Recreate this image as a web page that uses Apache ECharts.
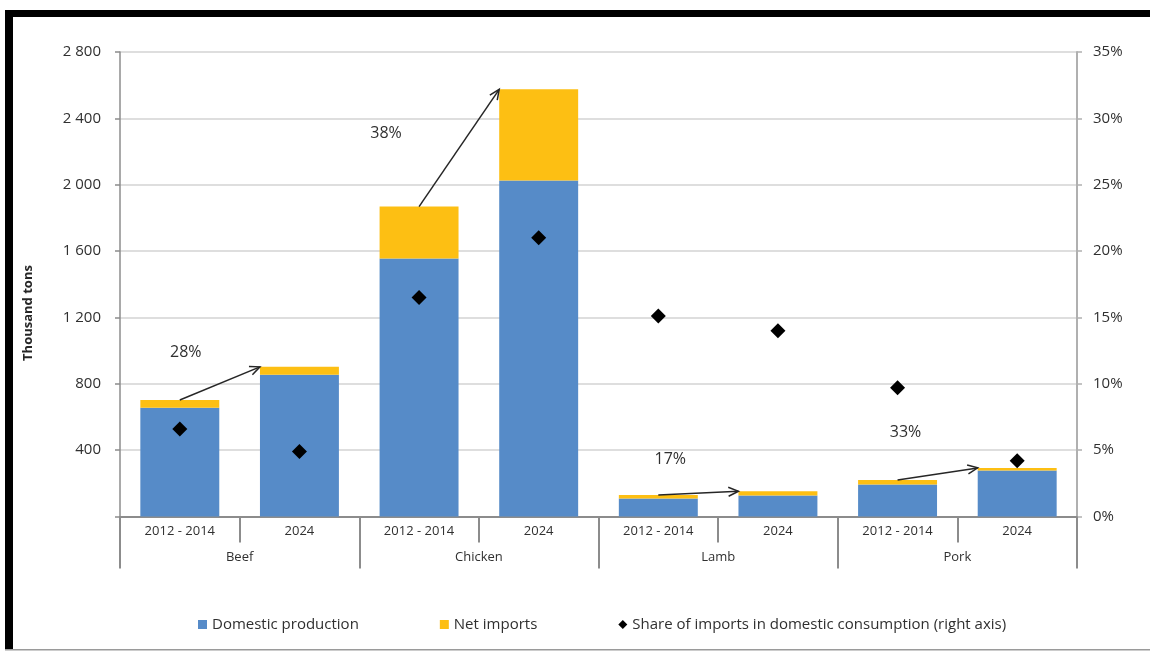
<!DOCTYPE html>
<html>
<head>
<meta charset="utf-8">
<script src="https://cdn.jsdelivr.net/npm/echarts@6/dist/echarts.min.js"></script>
<style>
  html, body { margin: 0; padding: 0; background: #ffffff; }
  #chart { width: 1150px; height: 652px; }
</style>
</head>
<body>
<div id="chart"></div>
<script>
// Periods shown under each bar, and the meat groups beneath them
const periods = ['2012 - 2014', '2024', '2012 - 2014', '2024', '2012 - 2014', '2024', '2012 - 2014', '2024'];
const meats = ['Beef', 'Chicken', 'Lamb', 'Pork'];

// Thousand tons
const domesticProduction = [655, 855, 1555, 2025, 108, 127, 193, 277];
const netImports = [47, 47, 313, 550, 22, 25, 27, 16];

// Share of imports in domestic consumption, %
const importShare = [6.6, 4.9, 16.5, 21.0, 15.1, 14.0, 9.7, 4.2];

// Growth arrows between the two periods of each meat
const growthFrom = [0, 2, 4, 6];
const growthTo = [1, 3, 5, 7];
const growthText = ['28%', '38%', '17%', '33%'];

// Label offsets (px) from each arrow's starting point
const growthLabelOffset = [[6, -48], [-33, -73], [12, -35], [8, -48]];

const totals = domesticProduction.map((d, i) => d + netImports[i]);

const BAR_RATIO = 0.66;
const FONT = '"Open Sans", "Noto Sans", sans-serif';
const TEXT = '#303030';
const AXIS = '#8c8c8c';

function thousands(v) {
  if (v === 0) return '';
  if (v < 1000) return String(v);
  return Math.floor(v / 1000) + ' ' + String(v % 1000).padStart(3, '0');
}

const chart = echarts.init(document.getElementById('chart'), null, { renderer: 'canvas' });

chart.setOption({
  backgroundColor: '#ffffff',
  animation: false,
  textStyle: { fontFamily: FONT },
  grid: { left: 120, right: 73, top: 52, bottom: 135.5, containLabel: false, outerBoundsMode: 'none' },
  legend: {
    data: [
      { name: 'Domestic production', icon: 'rect' },
      { name: 'Net imports', icon: 'rect' },
      { name: 'Share of imports in domestic consumption (right axis)', icon: 'diamond' }
    ],
    left: 193, top: 612,
    itemWidth: 9, itemHeight: 9, itemGap: 81,
    textStyle: { fontFamily: FONT, fontSize: 15, color: TEXT }
  },
  xAxis: [
    {
      type: 'category', data: periods, position: 'bottom',
      axisLine: { show: true, lineStyle: { color: AXIS, width: 2 } },
      axisTick: { show: true, interval: 0, length: 26, lineStyle: { color: AXIS, width: 2 } },
      axisLabel: { interval: 0, margin: 8, fontFamily: FONT, fontSize: 13, color: TEXT },
      splitLine: { show: false }
    },
    {
      type: 'category', data: meats, position: 'bottom',
      axisLine: { show: false },
      axisTick: { show: true, interval: 0, length: 52, lineStyle: { color: AXIS, width: 2 } },
      axisLabel: { interval: 0, margin: 34, fontFamily: FONT, fontSize: 13, color: TEXT },
      splitLine: { show: false }
    }
  ],
  yAxis: [
    {
      type: 'value', min: 0, max: 2800, interval: 400, position: 'left',
      axisLine: { show: true, lineStyle: { color: AXIS, width: 1.5 } },
      axisTick: { show: true, length: 5, lineStyle: { color: AXIS, width: 1.5 } },
      axisLabel: { margin: 19, fontFamily: FONT, fontSize: 15, color: TEXT, formatter: thousands },
      splitLine: { show: true, lineStyle: { color: '#dedede', width: 2 } }
    },
    {
      type: 'value', min: 0, max: 35, interval: 5, position: 'right',
      axisLine: { show: true, lineStyle: { color: '#b0b0b0', width: 2 } },
      axisTick: { show: true, length: 5, lineStyle: { color: '#b0b0b0', width: 1.5 } },
      axisLabel: { margin: 16, fontFamily: FONT, fontSize: 15, color: TEXT, formatter: '{value}%' },
      splitLine: { show: false }
    }
  ],
  series: [
    {
      name: 'Domestic production', type: 'bar', stack: 'supply',
      xAxisIndex: 0, yAxisIndex: 0, barWidth: (BAR_RATIO * 100) + '%',
      itemStyle: { color: '#568bc8' },
      data: domesticProduction
    },
    {
      name: 'Net imports', type: 'bar', stack: 'supply',
      xAxisIndex: 0, yAxisIndex: 0, barWidth: (BAR_RATIO * 100) + '%',
      itemStyle: { color: '#fdbf13' },
      data: netImports
    },
    {
      name: 'Growth', type: 'custom', xAxisIndex: 0, yAxisIndex: 0, z: 5,
      data: growthFrom.map(f => [f, totals[f]]),
      encode: { x: 0, y: 1 },
      renderItem: function (params, api) {
        const i = params.dataIndex;
        const from = growthFrom[i];
        const to = growthTo[i];
        const band = api.size([1, 0])[0];
        const p0 = api.coord([from, totals[from]]);
        const c1 = api.coord([to, totals[to]]);
        const p1 = [c1[0] - band * BAR_RATIO / 2, c1[1]];
        const ang = Math.atan2(p1[1] - p0[1], p1[0] - p0[0]);
        const h = 11, spread = 0.42;
        const a1 = [p1[0] - h * Math.cos(ang - spread), p1[1] - h * Math.sin(ang - spread)];
        const a2 = [p1[0] - h * Math.cos(ang + spread), p1[1] - h * Math.sin(ang + spread)];
        const off = growthLabelOffset[i];
        return {
          type: 'group',
          children: [
            { type: 'line', shape: { x1: p0[0], y1: p0[1], x2: p1[0], y2: p1[1] },
              style: { stroke: '#262626', lineWidth: 1.5 } },
            { type: 'polyline', shape: { points: [a1, p1, a2] },
              style: { stroke: '#262626', lineWidth: 1.5, fill: 'none' } },
            { type: 'text', x: p0[0] + off[0], y: p0[1] + off[1],
              style: { text: growthText[i], align: 'center', verticalAlign: 'middle',
                       font: '16px ' + FONT, fill: TEXT } }
          ]
        };
      }
    },
    {
      name: 'Share of imports in domestic consumption (right axis)', type: 'scatter',
      xAxisIndex: 0, yAxisIndex: 1, symbol: 'diamond', symbolSize: 15, z: 6,
      itemStyle: { color: '#000000', opacity: 1 },
      data: importShare
    }
  ],
  graphic: [
    { type: 'rect', shape: { x: 5, y: 10, width: 1150, height: 7 }, style: { fill: '#000000' }, z: 100 },
    { type: 'rect', shape: { x: 5, y: 10, width: 8, height: 640 }, style: { fill: '#000000' }, z: 100 },
    { type: 'rect', shape: { x: 5, y: 649, width: 1150, height: 1.5 }, style: { fill: '#9a9a9a' }, z: 100 },
    { type: 'text', x: 28, y: 313, rotation: Math.PI / 2,
      style: { text: 'Thousand tons', align: 'center', verticalAlign: 'middle',
               font: 'bold 13px ' + FONT, fill: '#262626' }, z: 100 }
  ]
});
</script>
</body>
</html>
